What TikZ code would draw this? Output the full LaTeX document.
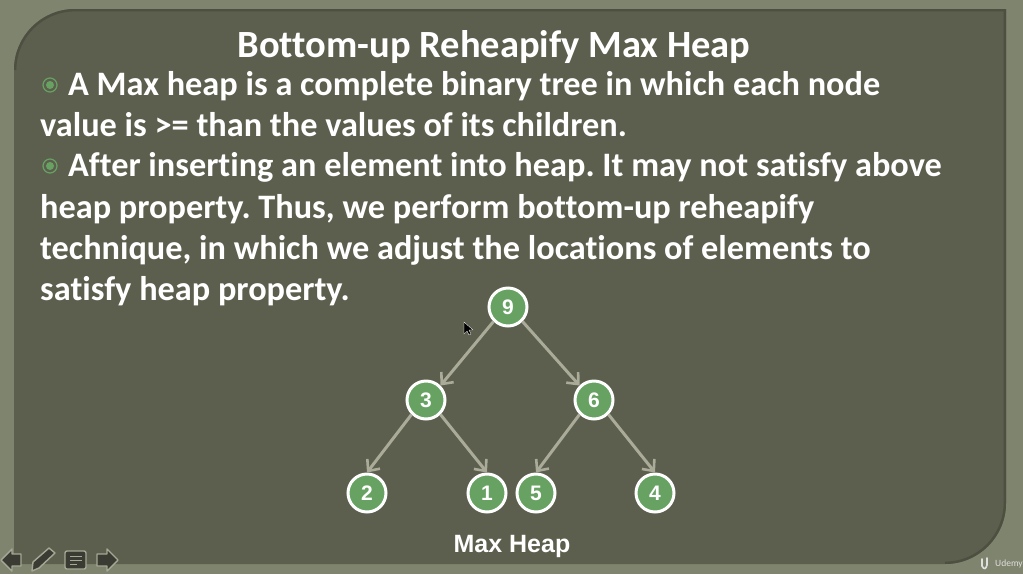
\documentclass[tikz,border=0pt]{standalone}
\usepackage{fontspec}
\setmainfont[Ligatures=NoCommon]{Carlito}
\newfontfamily\labelfont{Liberation Sans}
\usetikzlibrary{positioning}
\usetikzlibrary{arrows.meta}
\definecolor{slideback}{HTML}{7F846F}
\definecolor{slidepanel}{HTML}{5C5F4D}
\definecolor{panelshade}{HTML}{4D4F40}
\definecolor{heapgreen}{HTML}{67A263}
\definecolor{edgegray}{HTML}{AAAB98}
\definecolor{iconfill}{HTML}{3A3B32}
\definecolor{iconline}{HTML}{A5A894}
\tikzset{
  heapnode/.style={circle, draw=white, fill=heapgreen, line width=3, minimum size=38,
    inner sep=0, text=white, font=\labelfont\bfseries\fontsize{21}{21}\selectfont},
  heapedge/.style={draw=edgegray, line width=3,
    -{Straight Barb[length=9, width=16, line width=2.6]}},
  slideline/.style={anchor=base west, inner sep=0, text=white,
    font=\bfseries\fontsize{34.3}{34.3}\selectfont},
  bulletring/.style={draw=heapgreen, line width=1.2, fill=none},
  navicon/.style={draw=iconline, fill=iconfill, line width=1.4, line join=round},
}
\begin{document}
\frenchspacing
\begin{tikzpicture}[x=1pt, y=-1pt]
\useasboundingbox (0,0) rectangle (1023,574);
\fill[slideback] (0,0) rectangle (1023,574);

% panel
\fill[slidepanel]
  (14,70) arc[start angle=180, end angle=270, radius=61]
  -- (1006,9) -- (1006,503)
  arc[start angle=0, end angle=90, radius=61]
  -- (14,564) -- cycle;
\draw[panelshade, line width=2.4]
  (15.2,70) arc[start angle=180, end angle=270, radius=59.8] -- (1004.8,10.2) -- (1004.8,503)
  arc[start angle=0, end angle=90, radius=59.8];

% title and text
\node[slideline, anchor=base, font=\bfseries\fontsize{38.5}{38.5}\selectfont] (title) at (494,57) {Bottom-up Reheapify Max Heap};
\draw[bulletring] (50,85) circle (7);
\fill[heapgreen] (50,85) circle (4);
\node[slideline] (lineone) at (68,95) {A Max heap is a complete binary tree in which each node};
\node[slideline] (linetwo) at (40,136) {value is >= than the values of its children.};
\draw[bulletring] (50,166) circle (7);
\fill[heapgreen] (50,166) circle (4);
\node[slideline] (linethree) at (68,176) {After inserting an element into heap. It may not satisfy above};
\node[slideline] (linefour) at (40,218) {heap property. Thus, we perform bottom-up reheapify};
\node[slideline] (linefive) at (40,259) {technique, in which we adjust the locations of elements to};
\node[slideline] (linesix) at (40,300) {satisfy heap property.};

% heap
\node[heapnode] (nine) at (508,307) {9};
\node[heapnode] (three) at (426,400) {3};
\node[heapnode] (six) at (594,400) {6};
\node[heapnode] (two) at (367,493) {2};
\node[heapnode] (one) at (487,493) {1};
\node[heapnode] (five) at (536,493) {5};
\node[heapnode] (four) at (655,493) {4};

\draw[heapedge] (nine.south west) -- (three.north east);
\draw[heapedge] (nine.south east) -- (six.north west);
\draw[heapedge] (three.south west) -- (two.north);
\draw[heapedge] (three.south east) -- (one.north);
\draw[heapedge] (six.south west) -- (five.north);
\draw[heapedge] (six.south east) -- (four.north);

\node[text=white, font=\labelfont\bfseries\fontsize{25}{25}\selectfont] (caption) at (512,546) {Max Heap};

% pointer
\fill[black, draw=white, line width=.3]
  (464,322) -- (464,334) -- (467,331) -- (469,335) -- (471,334) -- (469,330) -- (473,330) -- cycle;

% nav icons
\draw[navicon] (1,560) -- (12,549) -- (12,554) -- (21,554) -- (21,566) -- (12,566) -- (12,571) -- cycle;
\draw[navicon] (32,571) -- (33,562) -- (49,548) -- (55,553) -- (39,568) -- cycle;
\draw[navicon, rounded corners=2] (65,551) rectangle (86,569);
\draw[iconline, line width=1] (70,556) -- (82,556) (70,560) -- (82,560) (70,564) -- (77,564);
\draw[navicon] (118,560) -- (107,549) -- (107,554) -- (97,554) -- (97,566) -- (107,566) -- (107,571) -- cycle;

% watermark
\node[text=white!75!slideback, inner sep=0, font=\fontsize{9.5}{9.5}\selectfont] (brand) at (1009,564) {Udemy};
\draw[white!75!slideback, line width=1.6, line cap=round]
  (982,559) -- (982,566) .. controls (984,570) and (986,569) .. (987,565) -- (987,558);
\end{tikzpicture}
\end{document}
